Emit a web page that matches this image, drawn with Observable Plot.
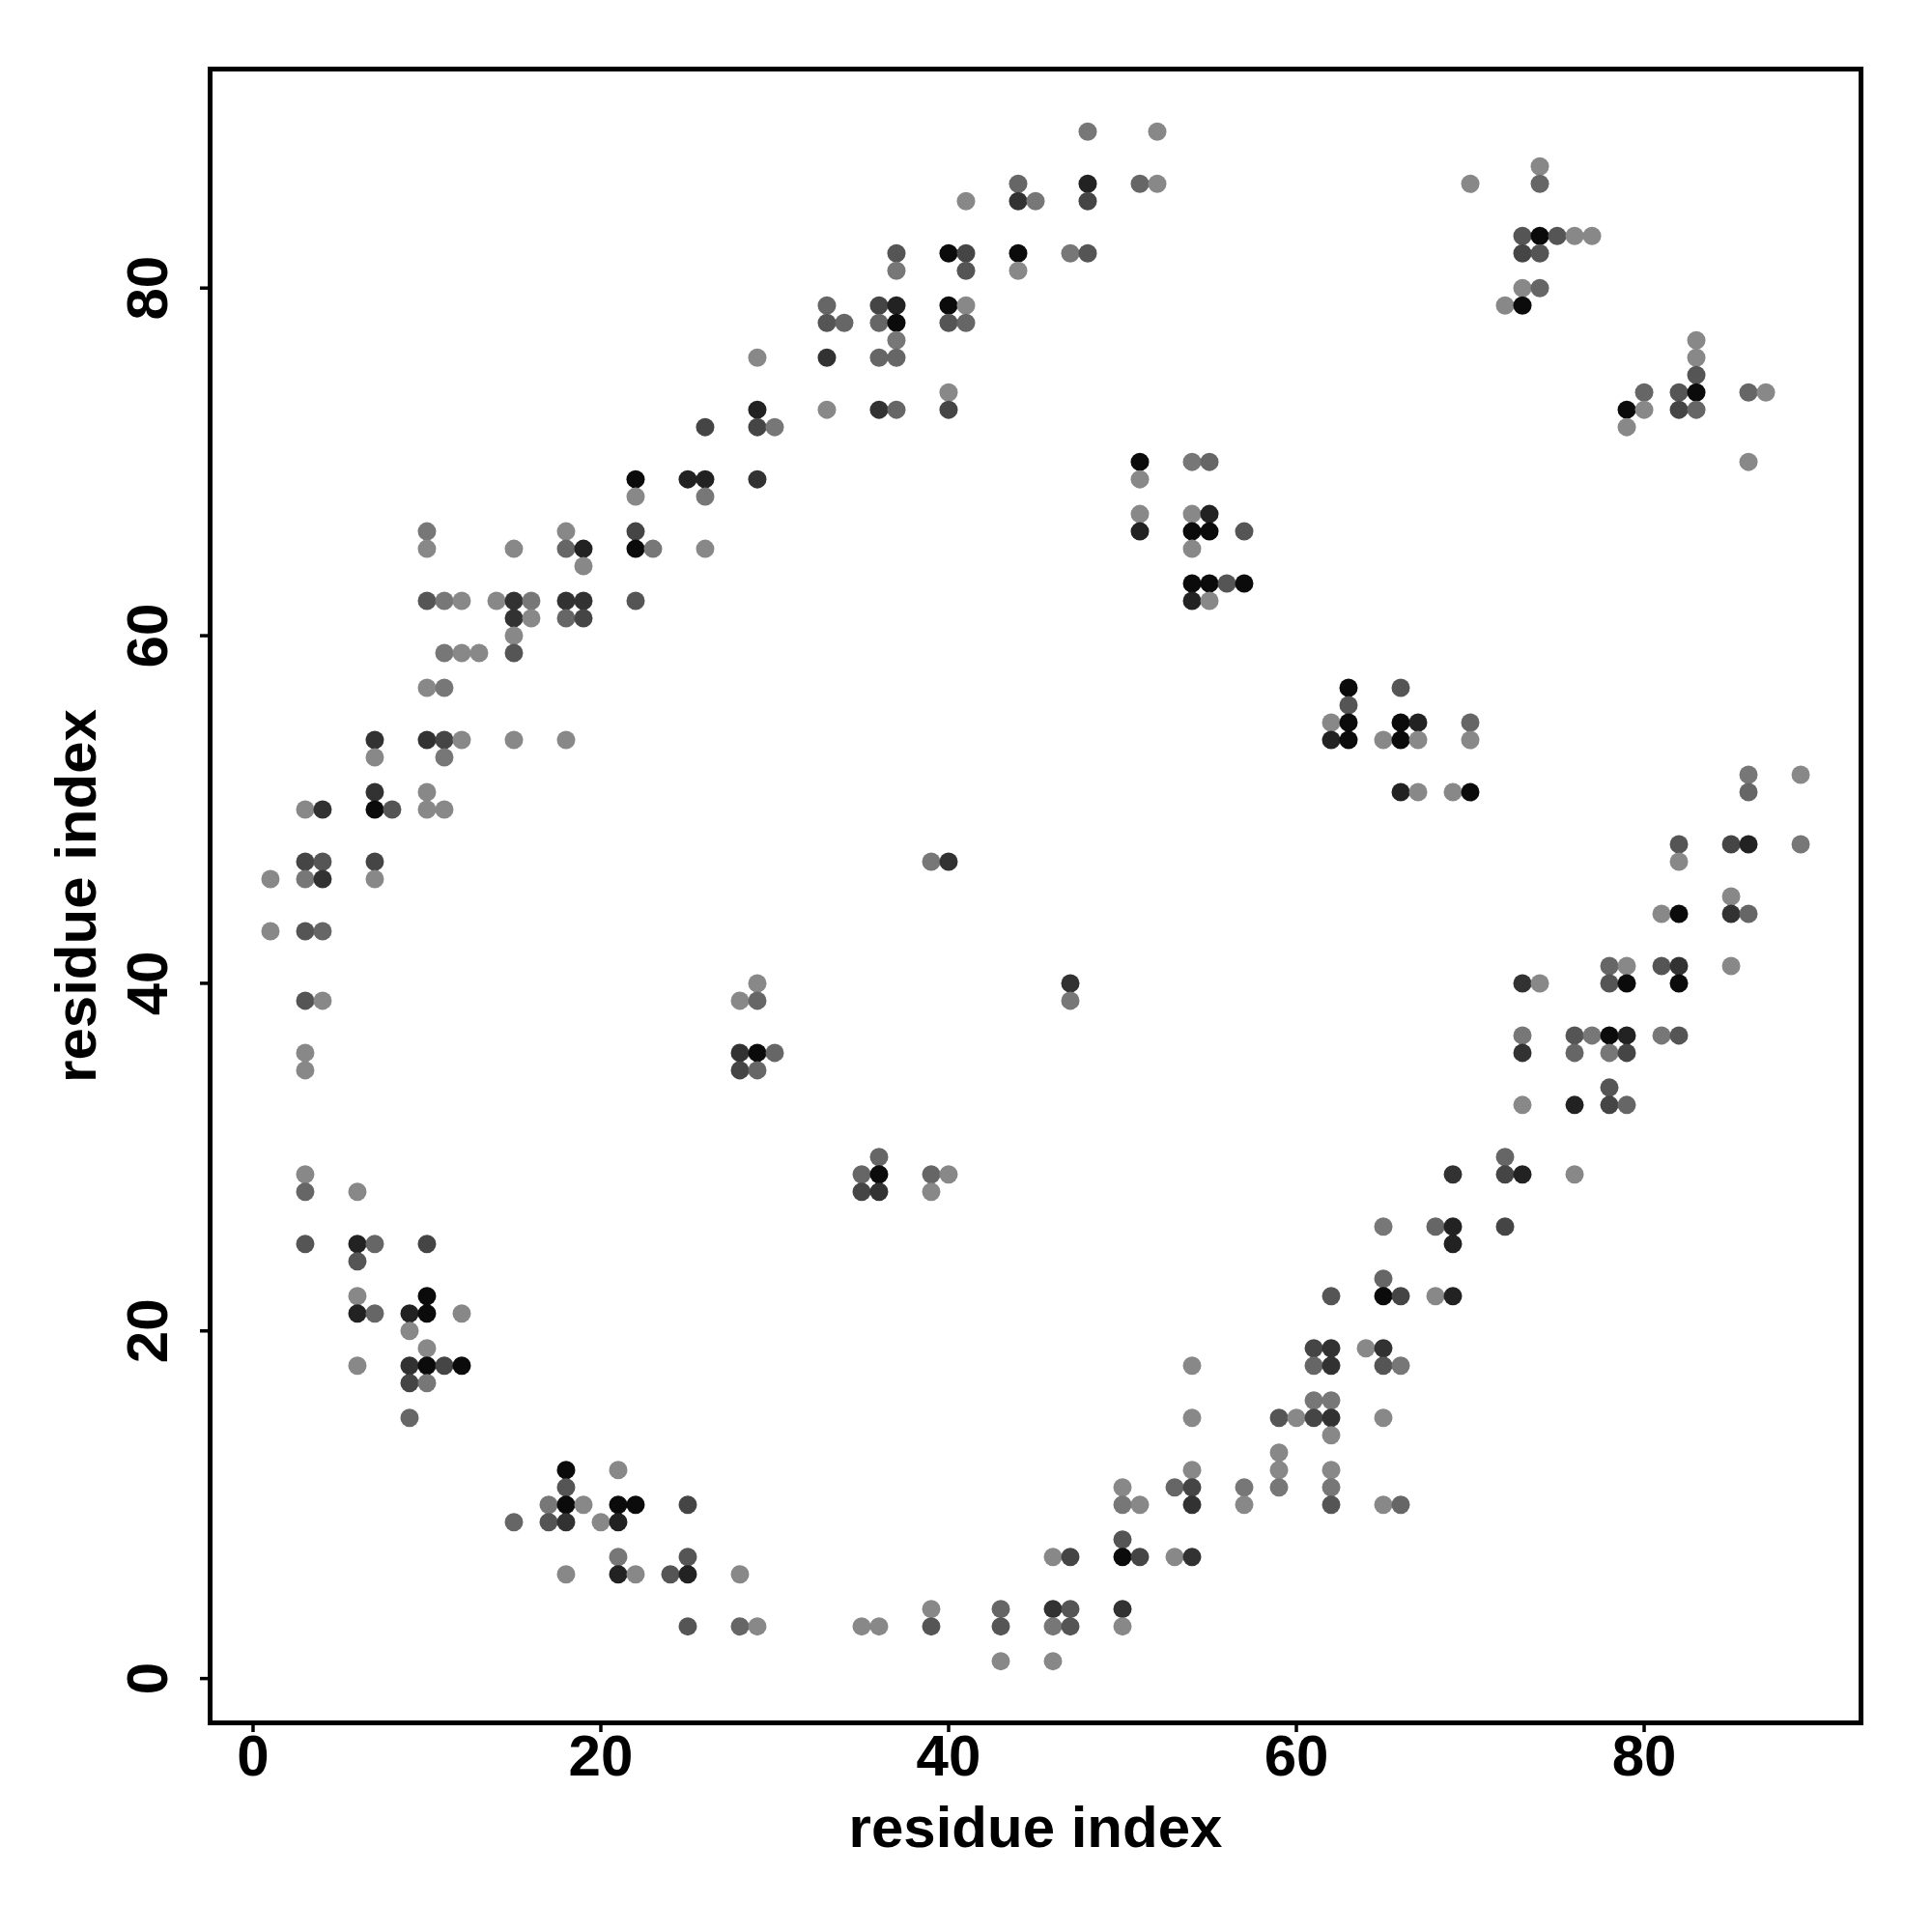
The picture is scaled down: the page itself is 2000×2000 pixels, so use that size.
<!DOCTYPE html>
<html><head><meta charset="utf-8">
<script src="https://cdn.jsdelivr.net/npm/d3@7"></script>
<script src="https://cdn.jsdelivr.net/npm/@observablehq/plot@0.6"></script>
<style>body{margin:0;background:#fff}</style>
</head><body><div id="chart"></div>
<script>
// residue i (x) for each column of contacts
const residueI = [1,3,4,6,7,8,9,10,11,12,13,14,15,16,17,18,19,20,21,22,23,24,25,26,28,29,30,33,34,35,36,37,39,40,41,43,44,45,46,47,48,50,51,52,53,54,55,56,57,59,60,61,62,63,64,65,66,67,68,69,70,72,73,74,75,76,77,78,79,80,81,82,83,85,86,87,89];
// residue j (y) partners for each column
const residueJ = [
 [46,43],
 [50,47,46,43,39,36,35,29,28,25],
 [50,47,46,43,39],
 [28,25,24,22,21,18],
 [54,53,51,50,47,46,25,21],
 [50],
 [21,20,18,17,15],
 [66,65,62,57,54,51,50,25,22,21,19,18,17],
 [62,59,57,54,53,50,18],
 [62,59,54,21,18],
 [59],
 [62],
 [65,62,61,60,59,54,9],
 [62,61],
 [10,9],
 [66,65,62,61,54,12,11,10,9,6],
 [65,64,62,61,10],
 [9],
 [12,10,9,7,6],
 [69,68,66,65,62,10,6],
 [65],
 [6],
 [69,10,7,6,3],
 [72,69,68,65],
 [39,36,35,6,3],
 [76,73,72,69,40,39,36,35,3],
 [72,36],
 [79,78,76,73],
 [78],
 [29,28,3],
 [79,78,76,73,30,29,28,3],
 [82,81,79,78,77,76,73],
 [47,29,28,4,3],
 [82,79,78,74,73,47,29],
 [85,82,81,79,78],
 [4,3,1],
 [86,85,82,81],
 [85],
 [7,4,3,1],
 [82,40,39,7,4,3],
 [89,86,85,82],
 [11,10,8,7,4,3],
 [86,70,69,67,66,10,7],
 [89,86],
 [11,7],
 [70,67,66,65,63,62,18,15,12,11,10,7],
 [70,67,66,63,62],
 [63],
 [66,63,11,10],
 [15,13,12,11],
 [15],
 [19,18,16,15],
 [55,54,22,19,18,16,15,14,12,11,10],
 [57,56,55,54],
 [19],
 [54,26,23,22,19,18,15,10],
 [57,55,54,51,22,18,10],
 [55,54,51],
 [26,22],
 [51,29,26,25,22],
 [86,55,54,51],
 [79,30,29,26],
 [83,82,80,79,40,37,36,33,29],
 [87,86,83,82,80,40],
 [83],
 [83,37,36,33,29],
 [83,37],
 [41,40,37,36,34,33],
 [73,72,41,40,37,36,33],
 [74,73],
 [44,41,37],
 [74,73,48,47,44,41,40,37],
 [77,76,75,74,73],
 [48,45,44,41],
 [74,70,52,51,48,44],
 [74],
 [52,48]
];
// contact confidence (darker = higher) for each partner
const confidence = [
 [.03,.03],
 [.03,.51,.15,.39,.39,.03,.03,.03,.27,.39],
 [.64,.39,.64,.27,.03],
 [.03,.76,.39,.03,.76,.03],
 [.64,.03,.64,.92,.51,.03,.27,.27],
 [.39],
 [.76,.03,.64,.51,.27],
 [.15,.03,.39,.03,.64,.03,.03,.51,.92,.92,.03,.92,.15],
 [.15,.15,.15,.51,.15,.03,.51],
 [.03,.03,.03,.03,.92],
 [.03],
 [.03],
 [.03,.64,.64,.03,.39,.03,.27],
 [.15,.03],
 [.15,.39],
 [.03,.27,.64,.27,.03,.92,.39,.92,.64,.03],
 [.76,.03,.64,.51,.03],
 [.03],
 [.03,.92,.76,.15,.76],
 [.92,.03,.51,.92,.39,.92,.03],
 [.15],
 [.39],
 [.76,.51,.39,.76,.39],
 [.51,.76,.15,.03],
 [.03,.64,.51,.03,.27],
 [.03,.76,.51,.64,.03,.27,.92,.27,.03],
 [.15,.27],
 [.27,.39,.64,.03],
 [.27],
 [.27,.51,.03],
 [.51,.27,.27,.64,.27,.92,.64,.03],
 [.39,.15,.76,.92,.15,.27,.27],
 [.15,.27,.03,.03,.39],
 [.92,.92,.39,.03,.51,.64,.03],
 [.03,.51,.39,.03,.27],
 [.27,.39,.03],
 [.27,.64,.92,.03],
 [.15],
 [.03,.64,.15,.03],
 [.15,.64,.15,.51,.39,.39],
 [.15,.76,.51,.39],
 [.03,.15,.39,.92,.64,.03],
 [.27,.92,.03,.03,.76,.03,.51],
 [.03,.03],
 [.27,.03],
 [.15,.03,.92,.03,.92,.76,.03,.03,.03,.51,.64,.64],
 [.27,.76,.92,.92,.03],
 [.39],
 [.39,.92,.15,.03],
 [.39,.03,.03,.15],
 [.03],
 [.51,.27,.15,.51],
 [.03,.76,.39,.64,.64,.15,.64,.03,.03,.15,.39],
 [.92,.39,.92,.92],
 [.03],
 [.03,.15,.27,.92,.64,.39,.03,.03],
 [.39,.92,.92,.76,.51,.15,.27],
 [.76,.03,.03],
 [.27,.03],
 [.03,.64,.76,.76,.76],
 [.03,.27,.03,.92],
 [.03,.27,.51,.51],
 [.39,.51,.03,.92,.64,.15,.64,.03,.76],
 [.03,.27,.92,.39,.27,.03],
 [.39],
 [.03,.39,.27,.76,.03],
 [.03,.15],
 [.27,.39,.92,.15,.39,.51],
 [.92,.03,.03,.92,.76,.51,.27],
 [.27,.03],
 [.03,.39,.15],
 [.39,.51,.39,.03,.92,.64,.92,.39],
 [.03,.03,.39,.92,.27],
 [.51,.03,.64,.03],
 [.27,.03,.15,.27,.76,.27],
 [.03],
 [.03,.15]
];
const xTicks = [0,20,40,60,80];
const yTicks = [0,20,40,60,80];
const xTitle = "residue index";
const yTitle = "residue index";

const contacts = residueI.flatMap((i, k) => residueJ[k].map((j, m) => ({i, j, c: confidence[k][m]})));

const font = "'Liberation Sans', Arial, Helvetica, sans-serif";
const chart = Plot.plot({
  width: 2000, height: 2000,
  marginLeft: 217, marginRight: 74, marginTop: 71, marginBottom: 217,
  style: {fontFamily: font, fontSize: "60px", fontWeight: "bold", background: "#fff", color: "#000"},
  x: {domain: [-2.47, 92.47]},
  y: {domain: [-2.55, 92.6]},
  color: {type: "linear", domain: [0, 1], range: ["#8c8c8c", "#000000"]},
  marks: [
    Plot.dot(contacts, {x: "i", y: "j", fill: "c", r: 9.5, stroke: null}),
    Plot.frame({stroke: "#000", strokeWidth: 5}),
    Plot.axisX({ticks: xTicks, tickSize: 10, tickPadding: 2, strokeWidth: 3.5, fontSize: 60, fontWeight: "bold", label: null}),
    Plot.axisY({ticks: yTicks, tickSize: 10, tickFormat: () => "", strokeWidth: 3.5, label: null}),
    Plot.text(yTicks, {y: d => d, text: d => String(d), frameAnchor: "left", dx: -45, rotate: -90, textAnchor: "middle", lineAnchor: "bottom", fontSize: 60, fontWeight: "bold"}),
    Plot.text([xTitle], {text: d => d, frameAnchor: "bottom", dy: 109, textAnchor: "middle", lineAnchor: "middle", fontSize: 60, fontWeight: "bold"}),
    Plot.text([yTitle], {text: d => d, frameAnchor: "left", dx: -138, rotate: -90, textAnchor: "middle", lineAnchor: "middle", fontSize: 60, fontWeight: "bold"})
  ]
});
document.getElementById("chart").appendChild(chart);
</script>
</body></html>
